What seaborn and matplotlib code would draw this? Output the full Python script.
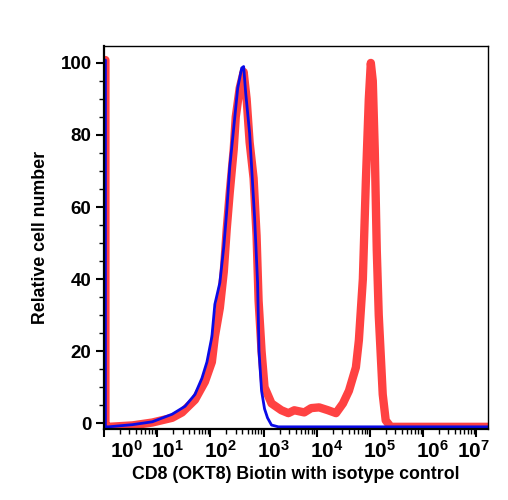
import matplotlib
matplotlib.use("Agg")
import matplotlib.pyplot as plt
import matplotlib.transforms as mtransforms
from matplotlib.ticker import FixedLocator, LogLocator, MultipleLocator, NullFormatter
import numpy as np
import pandas as pd
import seaborn as sns

sns.set_style("ticks")
plt.rcParams["font.family"] = ["Liberation Sans", "DejaVu Sans"]
plt.rcParams["font.weight"] = "bold"
plt.rcParams["text.color"] = "black"
plt.rcParams["axes.labelcolor"] = "black"
plt.rcParams["xtick.color"] = "black"
plt.rcParams["ytick.color"] = "black"
plt.rcParams["mathtext.fontset"] = "custom"
plt.rcParams["mathtext.rm"] = "Liberation Sans:bold"
plt.rcParams["mathtext.it"] = "Liberation Sans:bold"
plt.rcParams["mathtext.bf"] = "Liberation Sans:bold"

# histogram traces, x given in decades (log10 of fluorescence)
isotype_decades = [0.025, 0.025, 0.080, 0.533, 0.907, 1.280, 1.523, 1.710, 1.841, 1.935,
                   2.028, 2.084, 2.178, 2.252, 2.308, 2.364, 2.439, 2.514, 2.589, 2.626,
                   2.664, 2.738, 2.776, 2.832, 2.888, 2.915, 2.963, 3.019, 3.075, 3.150,
                   3.280, 5.000, 7.224]
isotype_counts = [100.8, -1.0, -1.0, -0.4, 0.4, 2.5, 4.7, 8.0, 12.5, 17.0,
                  24.0, 33.0, 39.0, 49.0, 59.0, 71.0, 82.0, 93.0, 98.6, 99.0,
                  91.7, 80.5, 71.0, 57.0, 39.0, 20.0, 9.0, 4.0, 1.5, -0.5,
                  -1.0, -1.0, -1.0]

cd8_decades = [0.025, 0.025, 0.080, 0.533, 0.907, 1.280, 1.467, 1.710, 1.897, 2.028,
               2.084, 2.178, 2.252, 2.308, 2.364, 2.439, 2.477, 2.551, 2.626, 2.682,
               2.738, 2.813, 2.869, 2.907, 2.963, 3.019, 3.150, 3.336, 3.467, 3.579,
               3.766, 3.897, 4.047, 4.215, 4.364, 4.495, 4.607, 4.738, 4.794, 4.869,
               4.925, 4.981, 5.019, 5.056, 5.093, 5.131, 5.168, 5.243, 5.299, 5.393,
               7.224]
cd8_counts = [100.8, -1.0, -1.0, -0.6, 0.2, 1.5, 3.0, 6.5, 11.5, 17.0,
              24.0, 32.0, 42.0, 54.0, 64.0, 76.0, 85.0, 93.0, 97.5, 90.0,
              78.0, 68.0, 52.0, 34.0, 20.0, 10.0, 5.5, 3.6, 2.8, 3.6,
              3.0, 4.2, 4.4, 3.6, 2.8, 5.5, 9.0, 15.5, 23.0, 40.0,
              67.0, 90.0, 100.0, 95.0, 76.0, 48.0, 30.0, 8.0, 0.8, -1.0,
              -1.0]

decade_ticks = [0, 1, 2, 3, 4, 5, 6, 7]
y_ticks = [0, 20, 40, 60, 80, 100]

cd8 = pd.DataFrame({"x": 10 ** np.array(cd8_decades), "y": cd8_counts})
isotype = pd.DataFrame({"x": 10 ** np.array(isotype_decades), "y": isotype_counts})

fig = plt.figure(figsize=(5.08, 5.0), dpi=100)
ax = fig.add_axes([104 / 508, 1 - 429 / 500, 384 / 508, 383 / 500])

sns.lineplot(data=cd8, x="x", y="y", sort=False, estimator=None, ax=ax,
             color="#ff3838", linewidth=6.0, alpha=0.95)
sns.lineplot(data=isotype, x="x", y="y", sort=False, estimator=None, ax=ax,
             color="#0a0ae6", linewidth=2.0)

ax.set_xscale("log")
ax.set_xlim(10 ** -0.002, 10 ** 7.224)
ax.set_ylim(-1.6, 104.7)

ax.xaxis.set_major_locator(FixedLocator([10.0 ** d for d in decade_ticks]))
ax.set_xticklabels([f"$10^{{{d}}}$" for d in decade_ticks])
ax.xaxis.set_minor_locator(LogLocator(base=10, subs=np.arange(2, 10), numticks=20))
ax.xaxis.set_minor_formatter(NullFormatter())
ax.yaxis.set_major_locator(FixedLocator(y_ticks))
ax.yaxis.set_minor_locator(MultipleLocator(5))

ax.tick_params(axis="both", which="major", direction="out", length=6, width=1.5,
               color="black", labelcolor="black")
ax.tick_params(axis="both", which="minor", direction="out", length=3.5, width=1.0,
               color="black")
ax.tick_params(axis="x", which="major", pad=2, labelsize=15)
ax.tick_params(axis="y", which="major", pad=3, labelsize=13.5)
for label in ax.get_xticklabels() + ax.get_yticklabels():
    label.set_fontweight("bold")

# shift the decade labels a little, as in the source figure
shifts = [22, 10, 10, 10, 10, 10, 10, -3]
for label, dx in zip(ax.get_xticklabels(), shifts):
    label.set_transform(label.get_transform() +
                        mtransforms.ScaledTranslation(dx / 100, 0, fig.dpi_scale_trans))

for side in ["left", "bottom"]:
    ax.spines[side].set_linewidth(1.6)
for side in ["top", "right"]:
    ax.spines[side].set_linewidth(1.0)
    ax.spines[side].set_visible(True)
for side in ax.spines:
    ax.spines[side].set_color("black")

ax.set_xlabel("CD8 (OKT8) Biotin with isotype control", fontsize=12.8,
              fontweight="bold", labelpad=3)
ax.set_ylabel("Relative cell number", fontsize=12.8, fontweight="bold", labelpad=8)

fig.savefig("out.png", dpi=100)
plt.close(fig)
